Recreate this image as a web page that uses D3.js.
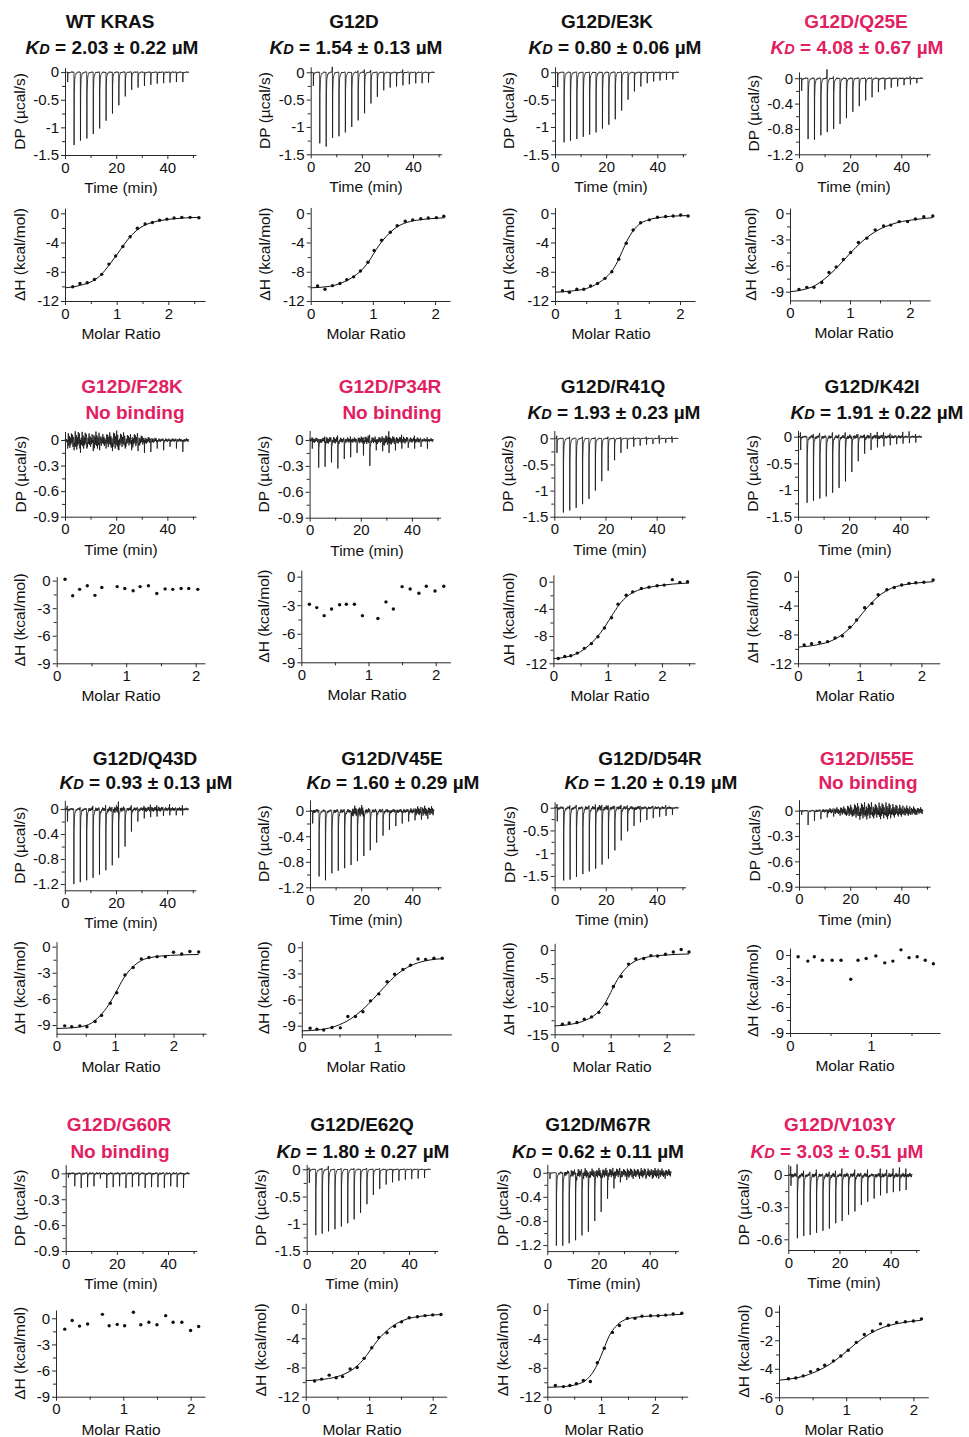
<!DOCTYPE html>
<html>
<head>
<meta charset="utf-8">
<script src="https://cdn.jsdelivr.net/npm/d3@7"></script>
<style>
  body { margin: 0; background: #fff; }
  svg text { font-family: "Liberation Sans", Arial, sans-serif; }
</style>
</head>
<body>
<svg id="chart" width="969" height="1437"></svg>
<script>
// ITC panels for WT KRAS and G12D variants: raw thermogram (DP) on top, binding isotherm (ΔH) below

// ---- data -------------------------------------------------------------
const mutants = ['WT KRAS', 'G12D', 'G12D/E3K', 'G12D/Q25E', 'G12D/F28K', 'G12D/P34R', 'G12D/R41Q', 'G12D/K42I',
  'G12D/Q43D', 'G12D/V45E', 'G12D/D54R', 'G12D/I55E', 'G12D/G60R', 'G12D/E62Q', 'G12D/M67R', 'G12D/V103Y'];
const kdValues = ['2.03 ± 0.22', '1.54 ± 0.13', '0.80 ± 0.06', '4.08 ± 0.67', null, null, '1.93 ± 0.23', '1.91 ± 0.22',
  '0.93 ± 0.13', '1.60 ± 0.29', '1.20 ± 0.19', null, null, '1.80 ± 0.27', '0.62 ± 0.11', '3.03 ± 0.51'];
const highlighted = [false, false, false, true, true, true, false, false, false, false, false, true, true, false, false, true];

// injection times (min) and end of the recorded trace
const INJ_TIMES = [1, 3.5, 6, 8.5, 11, 13.5, 16, 18.5, 21, 23.5, 26, 28.5, 31, 33.5, 36, 38.5, 41, 43.5, 46];
const TIME_END = 48.5;

// peak minima of each injection (µcal/s)
const peaksWT = [-0.18, -1.32, -1.24, -1.2, -1.12, -1.02, -0.88, -0.75, -0.6, -0.44, -0.32, -0.28, -0.25, -0.23, -0.21, -0.2, -0.19, -0.18, -0.18];
const peaksG12D = [-0.25, -1.3, -1.36, -1.2, -1.17, -1.1, -1.0, -0.88, -0.75, -0.57, -0.45, -0.33, -0.28, -0.26, -0.24, -0.22, -0.2, -0.2, -0.19];
const peaksE3K = [-0.27, -1.28, -1.25, -1.22, -1.18, -1.14, -1.1, -1.03, -0.96, -0.86, -0.7, -0.5, -0.35, -0.26, -0.2, -0.17, -0.15, -0.14, -0.13];
const peaksQ25E = [-0.2, -0.96, -0.97, -0.9, -0.85, -0.8, -0.72, -0.63, -0.53, -0.44, -0.35, -0.3, -0.22, -0.18, -0.15, -0.13, -0.11, -0.1, -0.08];
const peaksF28K = [-0.1, -0.12, -0.15, -0.1, -0.13, -0.12, -0.1, -0.13, -0.12, -0.1, -0.12, -0.13, -0.15, -0.14, -0.1, -0.12, -0.08, -0.1, -0.14];
const peaksP34R = [-0.1, -0.32, -0.31, -0.26, -0.33, -0.22, -0.2, -0.15, -0.18, -0.3, -0.12, -0.13, -0.15, -0.12, -0.1, -0.09, -0.1, -0.08, -0.1];
const peaksR41Q = [-0.28, -1.42, -1.38, -1.33, -1.26, -1.16, -1.0, -0.82, -0.62, -0.42, -0.28, -0.2, -0.16, -0.14, -0.12, -0.11, -0.1, -0.09, -0.08];
const peaksK42I = [-0.25, -1.24, -1.2, -1.16, -1.12, -1.05, -0.96, -0.84, -0.66, -0.46, -0.32, -0.25, -0.2, -0.18, -0.16, -0.14, -0.13, -0.12, -0.11];
const peaksQ43D = [-0.2, -1.2, -1.17, -1.14, -1.1, -1.05, -0.98, -0.9, -0.78, -0.6, -0.36, -0.2, -0.15, -0.13, -0.12, -0.11, -0.1, -0.1, -0.1];
const peaksV45E = [-0.2, -1.03, -1.09, -0.98, -0.94, -0.9, -0.85, -0.79, -0.71, -0.62, -0.5, -0.39, -0.3, -0.24, -0.2, -0.17, -0.15, -0.14, -0.13];
const peaksD54R = [-0.3, -1.6, -1.58, -1.52, -1.46, -1.4, -1.34, -1.25, -1.12, -0.94, -0.72, -0.52, -0.4, -0.32, -0.27, -0.23, -0.2, -0.18, -0.16];
const peaksI55E = [-0.05, -0.17, -0.12, -0.1, -0.08, -0.07, -0.06, -0.06, -0.06, -0.06, -0.05, -0.05, -0.05, -0.05, -0.05, -0.05, -0.05, -0.05, -0.05];
const peaksG60R = [-0.05, -0.15, -0.17, -0.16, -0.15, -0.06, -0.17, -0.16, -0.15, -0.17, -0.16, -0.15, -0.17, -0.16, -0.16, -0.17, -0.15, -0.16, -0.17];
const peaksE62Q = [-0.25, -1.21, -1.18, -1.14, -1.1, -1.05, -0.99, -0.92, -0.8, -0.64, -0.47, -0.36, -0.28, -0.24, -0.21, -0.19, -0.18, -0.17, -0.16];
const peaksM67R = [-0.1, -1.21, -1.21, -1.17, -1.12, -1.04, -0.98, -0.8, -0.65, -0.43, -0.26, -0.16, -0.12, -0.1, -0.1, -0.1, -0.1, -0.1, -0.1];
const peaksV103Y = [-0.1, -0.59, -0.57, -0.56, -0.54, -0.52, -0.5, -0.45, -0.43, -0.37, -0.34, -0.28, -0.25, -0.22, -0.19, -0.17, -0.16, -0.15, -0.14];

// small upward injection artefacts (µcal/s), one per injection
const upsG12D = [0, 0, 0, 0.1, 0, 0, 0, 0.03, 0.05, 0.04, 0, 0, 0, 0, 0.05, 0, 0, 0, 0];
const upsQ25E = [0, 0, 0, 0, 0.14, 0.03, 0, 0, 0, 0, 0, 0, 0, 0, 0, 0, 0, 0.03, 0];
const upsP34R = [0.03, 0, 0.04, 0, 0.05, 0, 0.04, 0, 0.03, 0.06, 0, 0.04, 0.1, 0, 0.06, 0, 0.05, 0, 0.03];
const upsR41Q = [0.05, 0, 0.03, 0, 0.03, 0, 0.02, 0, 0.03, 0, 0.02, 0, 0.03, 0, 0.03, 0, 0.06, 0, 0.04];
const upsK42I = [0.08, 0, 0.05, 0.07, 0, 0.08, 0.04, 0.08, 0, 0.05, 0.04, 0.07, 0.09, 0.08, 0.06, 0, 0.09, 0.1, 0.05];
const upsQ43D = [0.05, 0, 0.03, 0, 0.05, 0, 0.06, 0.03, 0.12, 0, 0.06, 0, 0.05, 0.07, 0.06, 0, 0.08, 0, 0.06];
const upsD54R = [0.08, 0, 0.05, 0.06, 0, 0.05, 0.07, 0.06, 0.05, 0.04, 0.06, 0.05, 0, 0.04, 0, 0.04, 0, 0.06, 0];
const upsE62Q = [0.03, 0, 0.02, 0.06, 0, 0.02, 0, 0.02, 0, 0.02, 0, 0.02, 0, 0, 0, 0, 0, 0, 0];
const upsV103Y = [0.08, 0.1, 0.04, 0.03, 0.05, 0, 0.03, 0.04, 0.06, 0, 0.05, 0, 0.05, 0, 0.06, 0.05, 0.06, 0.07, 0.06];

// baseline noise amplitude (µcal/s): before the first injection, then after each injection
const QUIET = 0.012;
const noiseF28K = [0.03, 0.09, 0.11, 0.1, 0.08, 0.1, 0.07, 0.09, 0.11, 0.09, 0.07, 0.08, 0.06, 0.04, 0.03, 0.02, 0.02, 0.02, 0.02, 0.02];
const noiseP34R = [0.02, 0.03, 0.03, 0.04, 0.04, 0.03, 0.03, 0.03, 0.04, 0.05, 0.04, 0.04, 0.06, 0.05, 0.04, 0.04, 0.03, 0.03, 0.02, 0.02];
const noiseK42I = [0.02, 0.02, 0.03, 0.03, 0.03, 0.03, 0.03, 0.03, 0.04, 0.04, 0.03, 0.04, 0.04, 0.04, 0.03, 0.03, 0.03, 0.02, 0.02, 0.02];
const noiseQ43D = [0.02, 0.02, 0.02, 0.02, 0.03, 0.03, 0.03, 0.04, 0.06, 0.04, 0.03, 0.03, 0.03, 0.04, 0.04, 0.04, 0.03, 0.03, 0.03, 0.02];
const noiseV45E = [0.02, 0.03, 0.02, 0.02, 0.03, 0.03, 0.03, 0.08, 0.09, 0.04, 0.03, 0.03, 0.03, 0.03, 0.03, 0.03, 0.04, 0.07, 0.08, 0.07];
const noiseD54R = [0.02, 0.03, 0.03, 0.03, 0.03, 0.04, 0.04, 0.06, 0.05, 0.04, 0.04, 0.04, 0.04, 0.04, 0.03, 0.03, 0.03, 0.03, 0.03, 0.02];
const noiseI55E = [0.01, 0.01, 0.01, 0.015, 0.02, 0.03, 0.04, 0.05, 0.07, 0.09, 0.1, 0.1, 0.09, 0.1, 0.1, 0.08, 0.07, 0.06, 0.05, 0.04];
const noiseM67R = [0.01, 0.01, 0.02, 0.04, 0.06, 0.07, 0.08, 0.07, 0.08, 0.08, 0.08, 0.08, 0.07, 0.08, 0.07, 0.08, 0.07, 0.08, 0.07, 0.06];
const noiseV103Y = [0.01, 0.02, 0.02, 0.015, 0.02, 0.015, 0.02, 0.02, 0.015, 0.02, 0.02, 0.02, 0.02, 0.015, 0.02, 0.02, 0.02, 0.02, 0.02, 0.02];

// integrated heats: molar ratio and ΔH (kcal/mol)
const ratioWT = [0.15, 0.29, 0.43, 0.57, 0.71, 0.85, 0.98, 1.12, 1.26, 1.4, 1.55, 1.69, 1.83, 1.97, 2.11, 2.26, 2.42, 2.59];
const heatWT = [-10.05, -9.6, -9.5, -9.05, -8.35, -6.95, -5.85, -4.55, -3.2, -2.05, -1.45, -1.25, -0.95, -0.8, -0.65, -0.55, -0.55, -0.6];
const ratioG12D = [0.11, 0.23, 0.35, 0.47, 0.58, 0.69, 0.8, 0.92, 1.02, 1.14, 1.28, 1.39, 1.52, 1.64, 1.77, 1.89, 2.02, 2.14];
const heatG12D = [-9.95, -10.4, -9.9, -9.6, -9.1, -8.7, -7.9, -6.7, -5.1, -3.7, -2.6, -1.7, -1.1, -0.9, -0.75, -0.65, -0.6, -0.4];
const ratioE3K = [0.12, 0.23, 0.35, 0.46, 0.57, 0.68, 0.8, 0.91, 1.02, 1.14, 1.25, 1.37, 1.51, 1.64, 1.77, 1.89, 2.01, 2.13];
const heatE3K = [-10.6, -10.8, -10.4, -10.4, -9.95, -9.6, -8.9, -8.0, -6.3, -4.1, -2.3, -1.3, -0.9, -0.55, -0.45, -0.37, -0.23, -0.37];
const ratioQ25E = [0.15, 0.28, 0.4, 0.53, 0.65, 0.77, 0.89, 1.01, 1.14, 1.28, 1.42, 1.56, 1.68, 1.82, 1.96, 2.09, 2.23, 2.38];
const heatQ25E = [-8.75, -8.5, -8.5, -7.95, -6.8, -6.15, -5.3, -4.5, -3.35, -2.85, -1.9, -1.45, -1.35, -0.95, -0.95, -0.65, -0.4, -0.3];
const ratioF28K = [0.12, 0.23, 0.33, 0.44, 0.55, 0.65, 0.87, 0.98, 1.1, 1.2, 1.32, 1.44, 1.56, 1.67, 1.79, 1.9, 2.03];
const heatF28K = [0.15, -1.65, -0.95, -0.55, -1.6, -0.75, -0.65, -0.85, -1.1, -0.65, -0.55, -1.4, -0.9, -0.95, -0.85, -0.85, -0.95];
const ratioP34R = [0.12, 0.23, 0.34, 0.45, 0.57, 0.67, 0.79, 0.91, 1.14, 1.26, 1.37, 1.5, 1.62, 1.75, 1.86, 1.99, 2.12];
const heatP34R = [-2.9, -3.25, -4.1, -3.4, -2.95, -2.9, -2.9, -4.1, -4.4, -2.65, -3.4, -1.05, -1.3, -1.75, -1.0, -1.5, -1.0];
const ratioR41Q = [0.09, 0.21, 0.32, 0.44, 0.57, 0.7, 0.82, 0.94, 1.07, 1.19, 1.34, 1.46, 1.62, 1.76, 1.91, 2.04, 2.19, 2.33, 2.47];
const heatR41Q = [-11.3, -11.0, -10.9, -10.5, -9.8, -9.1, -8.1, -6.8, -5.3, -3.3, -2.0, -1.5, -1.0, -0.8, -0.6, -0.5, 0.3, -0.1, 0];
const ratioK42I = [0.1, 0.22, 0.35, 0.48, 0.6, 0.72, 0.84, 0.95, 1.08, 1.2, 1.3, 1.44, 1.56, 1.68, 1.8, 1.91, 2.04, 2.19];
const heatK42I = [-9.45, -9.3, -9.1, -9.0, -8.5, -8.2, -7.0, -6.0, -4.3, -3.7, -2.5, -1.8, -1.5, -1.15, -0.92, -0.83, -0.78, -0.46];
const ratioQ43D = [0.14, 0.26, 0.4, 0.52, 0.66, 0.77, 0.92, 1.03, 1.17, 1.31, 1.45, 1.58, 1.72, 1.86, 2.0, 2.14, 2.28, 2.43];
const heatQ43D = [-9.1, -9.2, -9.1, -9.2, -8.6, -7.9, -6.5, -5.3, -3.25, -2.4, -1.4, -1.25, -1.15, -1.15, -0.65, -0.85, -0.55, -0.6];
const ratioV45E = [0.11, 0.2, 0.29, 0.4, 0.51, 0.61, 0.71, 0.81, 0.91, 1.02, 1.13, 1.23, 1.34, 1.44, 1.54, 1.64, 1.75, 1.86];
const heatV45E = [-9.3, -9.4, -9.5, -9.2, -9.25, -7.95, -7.95, -7.4, -6.15, -5.35, -3.95, -3.1, -2.55, -2.05, -1.35, -1.4, -1.25, -1.25];
const ratioD54R = [0.14, 0.26, 0.4, 0.53, 0.66, 0.79, 0.93, 1.05, 1.19, 1.32, 1.45, 1.59, 1.72, 1.84, 1.98, 2.12, 2.26, 2.4];
const heatD54R = [-13.2, -13.0, -12.9, -12.3, -11.9, -11.1, -9.6, -6.5, -4.7, -2.5, -1.6, -1.5, -1.0, -1.05, -0.75, -0.35, 0.1, -0.35];
const ratioI55E = [0.1, 0.22, 0.3, 0.4, 0.52, 0.63, 0.75, 0.84, 0.94, 1.06, 1.17, 1.27, 1.37, 1.47, 1.57, 1.67, 1.77];
const heatI55E = [-0.2, -0.7, -0.2, -0.6, -0.6, -0.6, -2.8, -0.6, -0.4, -0.1, -0.9, -0.7, 0.6, -0.3, -0.2, -0.6, -1.0];
const ratioG60R = [0.13, 0.24, 0.35, 0.47, 0.69, 0.79, 0.91, 1.02, 1.15, 1.26, 1.38, 1.5, 1.63, 1.74, 1.87, 2.0, 2.12];
const heatG60R = [-1.25, -0.25, -0.9, -0.65, 0.45, -0.85, -0.7, -0.85, 0.7, -0.75, -0.45, -0.75, 0.3, -0.45, -0.45, -1.4, -0.95];
const ratioE62Q = [0.14, 0.25, 0.37, 0.48, 0.58, 0.7, 0.81, 0.92, 1.04, 1.15, 1.28, 1.4, 1.51, 1.63, 1.76, 1.88, 2.0, 2.13];
const heatE62Q = [-9.85, -9.6, -9.05, -9.4, -9.25, -8.2, -8.0, -6.75, -5.3, -3.9, -3.25, -2.35, -1.75, -1.2, -1.05, -0.9, -0.8, -0.75];
const ratioM67R = [0.15, 0.3, 0.42, 0.54, 0.67, 0.8, 0.93, 1.06, 1.21, 1.34, 1.49, 1.63, 1.76, 1.92, 2.06, 2.2, 2.34, 2.5];
const heatM67R = [-10.45, -10.6, -10.45, -10.2, -9.75, -9.9, -7.3, -5.3, -3.1, -2.15, -1.15, -1.15, -0.85, -0.8, -0.8, -0.7, -0.55, -0.45];
const ratioV103Y = [0.14, 0.25, 0.36, 0.47, 0.58, 0.68, 0.81, 0.92, 1.03, 1.15, 1.27, 1.39, 1.51, 1.63, 1.75, 1.88, 2.0, 2.12];
const heatV103Y = [-4.7, -4.65, -4.5, -4.2, -4.05, -3.75, -3.45, -3.1, -2.7, -2.15, -1.6, -1.35, -0.85, -0.95, -0.75, -0.7, -0.65, -0.5];

// fitted one-site curves as [molar ratio, ΔH]
const fitWT = [[0, -10.2], [0.3, -9.85], [0.55, -9.2], [0.7, -8.4], [0.85, -7.1], [1.0, -5.7], [1.15, -4.2], [1.3, -2.9], [1.45, -2.0], [1.6, -1.45], [1.8, -1.05], [2.1, -0.75], [2.6, -0.55]];
const fitG12D = [[0, -10.2], [0.3, -10.0], [0.5, -9.5], [0.7, -8.6], [0.85, -7.5], [0.95, -6.4], [1.05, -5.0], [1.15, -3.8], [1.28, -2.6], [1.4, -1.8], [1.55, -1.25], [1.75, -0.9], [2.0, -0.7], [2.15, -0.62]];
const fitE3K = [[0, -10.8], [0.3, -10.6], [0.5, -10.3], [0.7, -9.5], [0.85, -8.5], [0.95, -7.4], [1.05, -5.7], [1.15, -3.8], [1.25, -2.4], [1.35, -1.5], [1.5, -0.9], [1.7, -0.55], [2.0, -0.35], [2.13, -0.32]];
const fitQ25E = [[0, -9.0], [0.2, -8.8], [0.4, -8.35], [0.6, -7.4], [0.8, -6.1], [1.0, -4.6], [1.2, -3.25], [1.4, -2.2], [1.6, -1.5], [1.8, -1.05], [2.1, -0.7], [2.38, -0.5]];
const fitR41Q = [[0, -11.3], [0.25, -11.05], [0.45, -10.5], [0.65, -9.4], [0.8, -8.2], [0.95, -6.6], [1.1, -4.7], [1.25, -3.0], [1.4, -1.9], [1.6, -1.15], [1.85, -0.7], [2.2, -0.35], [2.5, -0.2]];
const fitK42I = [[0, -9.75], [0.3, -9.45], [0.55, -8.85], [0.75, -7.8], [0.9, -6.6], [1.05, -5.0], [1.2, -3.55], [1.35, -2.4], [1.5, -1.65], [1.7, -1.15], [1.95, -0.85], [2.19, -0.7]];
const fitQ43D = [[0, -9.4], [0.3, -9.3], [0.55, -8.95], [0.75, -7.9], [0.9, -6.6], [1.02, -5.2], [1.15, -3.6], [1.3, -2.35], [1.45, -1.6], [1.65, -1.2], [1.95, -1.0], [2.43, -0.9]];
const fitV45E = [[0, -9.6], [0.25, -9.45], [0.45, -9.05], [0.65, -8.2], [0.8, -7.2], [0.95, -5.9], [1.1, -4.5], [1.25, -3.2], [1.4, -2.3], [1.55, -1.75], [1.7, -1.45], [1.88, -1.3]];
const fitD54R = [[0, -13.5], [0.3, -13.2], [0.55, -12.5], [0.75, -11.3], [0.88, -9.8], [1.0, -7.6], [1.12, -5.3], [1.25, -3.5], [1.4, -2.2], [1.6, -1.4], [1.9, -0.95], [2.4, -0.7]];
const fitE62Q = [[0, -9.8], [0.3, -9.6], [0.55, -9.1], [0.75, -8.2], [0.9, -7.0], [1.02, -5.6], [1.15, -4.1], [1.3, -2.8], [1.45, -1.9], [1.6, -1.35], [1.8, -1.0], [2.13, -0.75]];
const fitM67R = [[0, -10.7], [0.3, -10.6], [0.55, -10.3], [0.72, -9.7], [0.85, -8.6], [0.95, -7.2], [1.05, -5.4], [1.15, -3.6], [1.27, -2.3], [1.4, -1.5], [1.6, -1.05], [2.0, -0.8], [2.5, -0.6]];
const fitV103Y = [[0, -4.8], [0.25, -4.65], [0.5, -4.3], [0.75, -3.7], [0.95, -3.0], [1.15, -2.2], [1.35, -1.55], [1.55, -1.1], [1.8, -0.8], [2.12, -0.6]];

// tick values
const timeTicks = [0, 20, 40];
const timeMinor = [10, 30, 50];
const ratioTicks = [0, 1, 2];
const ratioMinor = [0.5, 1.5, 2.5];
const dpTicks15 = [0, -0.5, -1, -1.5];
const dpTicks12 = [0, -0.4, -0.8, -1.2];
const dpTicks09 = [0, -0.3, -0.6, -0.9];
const dpTicks06 = [0, -0.3, -0.6];
const heatTicks12 = [0, -4, -8, -12];
const heatTicks9 = [0, -3, -6, -9];
const heatTicks15 = [0, -5, -10, -15];
const heatTicks6 = [0, -2, -4, -6];

// ---- layout (pixels) --------------------------------------------------
const TITLE_Y = [28.3, 393, 765, 1130.7];
const SUB_Y = [54.3, 419.3, 789.3, 1157.5];
const DP_SPAN = 51.2;      // minutes covered by the DP x axis
const DP_WIDTH = 131;      // its length in px
// tx/kx: title centres, dp/iso: axis origin x, y px [bottom, top], y domain; dl/il: y-title x; lx: x-title centre
const LAYOUT = [
  { row: 0, tx: 110, kx: 112, dpX: 65, dpY: [155, 67.7], dpD: [-1.5, 0.08], dl: 19, isoX: 65, isoEnd: 205, ppu: 51.7, isoY: [301, 208.2], isoD: [-12, 0.7], il: 19, lx: 121, clip: true },
  { row: 0, tx: 354, kx: 356, dpX: 310.7, dpY: [154.3, 66.8], dpD: [-1.5, 0.1], dl: 264, isoX: 310.7, isoEnd: 450, ppu: 62.2, isoY: [301, 207.4], isoD: [-12, 0.8], il: 264, lx: 366, clip: true },
  { row: 0, tx: 607, kx: 615, dpX: 555, dpY: [154.3, 66.8], dpD: [-1.5, 0.1], dl: 508, isoX: 555, isoEnd: 695, ppu: 62.5, isoY: [301, 207.4], isoD: [-12, 0.8], il: 508, lx: 611 },
  { row: 0, tx: 856, kx: 857, dpX: 799, dpY: [154.3, 71.9], dpD: [-1.2, 0.1], dl: 753, isoX: 790, isoEnd: 930, ppu: 60, isoY: [300.4, 208.1], isoD: [-10, 0.6], il: 750, lx: 854 },
  { row: 1, tx: 132, kx: 135, dpX: 65, dpY: [516.7, 431.5], dpD: [-0.9, 0.1], dl: 20, isoX: 56.7, isoEnd: 205, ppu: 69.5, isoY: [663.3, 576.5], isoD: [-9, 0.45], il: 19, lx: 121 },
  { row: 1, tx: 390, kx: 392, dpX: 309.6, dpY: [517.7, 430.5], dpD: [-0.9, 0.11], dl: 263, isoX: 301.3, isoEnd: 450.4, ppu: 67.2, isoY: [662.3, 570], isoD: [-9, 0.7], il: 263, lx: 367 },
  { row: 1, tx: 613, kx: 614, dpX: 554.3, dpY: [516.7, 430.5], dpD: [-1.5, 0.15], dl: 507, isoX: 553.4, isoEnd: 695, ppu: 54.3, isoY: [663.3, 574.9], isoD: [-12, 1.0], il: 508, lx: 610 },
  { row: 1, tx: 872, kx: 877, dpX: 798, dpY: [516.7, 430.3], dpD: [-1.5, 0.12], dl: 752, isoX: 798, isoEnd: 939.8, ppu: 61.7, isoY: [663.3, 570.2], isoD: [-12, 0.9], il: 752, lx: 855 },
  { row: 2, tx: 145, kx: 146, dpX: 64.8, dpY: [890.3, 800.3], dpD: [-1.3, 0.14], dl: 19, isoX: 56.5, isoEnd: 206, ppu: 58.5, isoY: [1033.7, 941.7], isoD: [-10, 0.57], il: 19, lx: 121 },
  { row: 2, tx: 392, kx: 393, dpX: 310, dpY: [887.3, 799.9], dpD: [-1.2, 0.17], dl: 263, isoX: 301.8, isoEnd: 451.4, ppu: 75.5, isoY: [1034.4, 941.2], isoD: [-10, 0.7], il: 263, lx: 366 },
  { row: 2, tx: 650, kx: 651, dpX: 554.6, dpY: [887.3, 801.8], dpD: [-1.75, 0.13], dl: 509, isoX: 554.6, isoEnd: 694.4, ppu: 56, isoY: [1034.3, 943.3], isoD: [-15, 1.2], il: 508, lx: 612 },
  { row: 2, tx: 867, kx: 868, dpX: 799, dpY: [886.7, 799.7], dpD: [-0.9, 0.13], dl: 754, isoX: 790, isoEnd: 940, ppu: 81, isoY: [1033, 948.1], isoD: [-9, 0.8], il: 752, lx: 855 },
  { row: 3, tx: 119, kx: 120, dpX: 65.7, dpY: [1251, 1164.7], dpD: [-0.9, 0.1], dl: 19, isoX: 56, isoEnd: 205, ppu: 67.3, isoY: [1396.7, 1310], isoD: [-9, 0.95], il: 19, lx: 121 },
  { row: 3, tx: 362, kx: 363, dpX: 306.7, dpY: [1251, 1164.4], dpD: [-1.5, 0.09], dl: 260, isoX: 305.7, isoEnd: 446.7, ppu: 63.5, isoY: [1396.7, 1303.2], isoD: [-12, 0.8], il: 260, lx: 362 },
  { row: 3, tx: 598, kx: 598, dpX: 547.3, dpY: [1251.1, 1164.3], dpD: [-1.3, 0.14], dl: 502, isoX: 547.3, isoEnd: 687.7, ppu: 53.8, isoY: [1396.7, 1302.8], isoD: [-12, 1.0], il: 502, lx: 604 },
  { row: 3, tx: 840, kx: 837, dpX: 788.3, dpY: [1250, 1164.3], dpD: [-0.7, 0.1], dl: 743, isoX: 779, isoEnd: 928.3, ppu: 67.2, isoY: [1397.3, 1305], isoD: [-6, 0.47], il: 743, lx: 844 }
];

const PANELS = mutants.map((name, i) => ({
  name,
  kd: kdValues[i],
  red: highlighted[i],
  peaks: [peaksWT, peaksG12D, peaksE3K, peaksQ25E, peaksF28K, peaksP34R, peaksR41Q, peaksK42I, peaksQ43D, peaksV45E, peaksD54R, peaksI55E, peaksG60R, peaksE62Q, peaksM67R, peaksV103Y][i],
  ups: [null, upsG12D, null, upsQ25E, null, upsP34R, upsR41Q, upsK42I, upsQ43D, null, upsD54R, null, null, upsE62Q, null, upsV103Y][i],
  noise: [null, null, null, null, noiseF28K, noiseP34R, null, noiseK42I, noiseQ43D, noiseV45E, noiseD54R, noiseI55E, null, null, noiseM67R, noiseV103Y][i],
  ratio: [ratioWT, ratioG12D, ratioE3K, ratioQ25E, ratioF28K, ratioP34R, ratioR41Q, ratioK42I, ratioQ43D, ratioV45E, ratioD54R, ratioI55E, ratioG60R, ratioE62Q, ratioM67R, ratioV103Y][i],
  heat: [heatWT, heatG12D, heatE3K, heatQ25E, heatF28K, heatP34R, heatR41Q, heatK42I, heatQ43D, heatV45E, heatD54R, heatI55E, heatG60R, heatE62Q, heatM67R, heatV103Y][i],
  fit: [fitWT, fitG12D, fitE3K, fitQ25E, null, null, fitR41Q, fitK42I, fitQ43D, fitV45E, fitD54R, null, null, fitE62Q, fitM67R, fitV103Y][i],
  dpTicks: [dpTicks15, dpTicks15, dpTicks15, dpTicks12, dpTicks09, dpTicks09, dpTicks15, dpTicks15, dpTicks12, dpTicks12, dpTicks15, dpTicks09, dpTicks09, dpTicks15, dpTicks12, dpTicks06][i],
  heatTicks: [heatTicks12, heatTicks12, heatTicks12, heatTicks9, heatTicks9, heatTicks9, heatTicks12, heatTicks12, heatTicks9, heatTicks9, heatTicks15, heatTicks9, heatTicks9, heatTicks12, heatTicks12, heatTicks6][i],
  L: LAYOUT[i]
}));

// ---- styles -----------------------------------------------------------
const INK = '#111';
const AXIS = '#2a2a2a';
const RED = '#e2205f';
const FONT = '"Liberation Sans", Arial, sans-serif';

// spike shape of one injection (time offset in min -> fraction of peak depth)
const PEAK_T = [0, 0.05, 0.12, 0.3, 0.6, 1.0, 1.6];
const PEAK_F = [0, 1, 0.3, 0.1, 0.035, 0.01, 0];
const profile = d3.scaleLinear().domain(PEAK_T).range(PEAK_F).clamp(true);
// fixed texture used to draw baseline noise of a given amplitude
const WIGGLE = [0.7, -0.9, 0.4, -0.5, 1, -0.7, 0.55, -1, 0.3, -0.6, 0.85, -0.4];
const STEP = 0.2;

const svg = d3.select('#chart');
const defs = svg.append('defs');

function midpoints(ticks, min) {
  const out = [];
  for (let i = 1; i < ticks.length; i++) out.push((ticks[i - 1] + ticks[i]) / 2);
  const last = ticks[ticks.length - 1] - (ticks[0] - ticks[1]) / 2;
  if (last >= min - 1e-9) out.push(last);
  return out;
}

function styleAxis(sel) {
  sel.attr('font-family', FONT).attr('font-size', 15);
  sel.selectAll('line').attr('stroke', AXIS).attr('stroke-width', 1);
  sel.selectAll('path').attr('stroke', AXIS).attr('stroke-width', 1);
  sel.selectAll('text').attr('fill', INK);
}

function drawAxes(g, x, y, xMajor, xMinor, yMajor, yMinor) {
  const bottom = y.range()[0];
  const left = x.range()[0];
  const fmt = d => String(+d.toFixed(2));

  g.append('g')
    .attr('transform', `translate(0,${bottom})`)
    .call(d3.axisBottom(x).tickValues(xMinor).tickSize(3).tickSizeOuter(0).tickFormat(''))
    .call(s => s.select('.domain').remove())
    .call(styleAxis);
  g.append('g')
    .attr('transform', `translate(0,${bottom})`)
    .call(d3.axisBottom(x).tickValues(xMajor).tickSize(4).tickSizeOuter(0).tickPadding(3).tickFormat(fmt))
    .call(styleAxis);

  g.append('g')
    .attr('transform', `translate(${left},0)`)
    .call(d3.axisLeft(y).tickValues(yMinor).tickSize(3).tickSizeOuter(0).tickFormat(''))
    .call(s => s.select('.domain').remove())
    .call(styleAxis);
  g.append('g')
    .attr('transform', `translate(${left},0)`)
    .call(d3.axisLeft(y).tickValues(yMajor).tickSize(4).tickSizeOuter(0).tickPadding(2).tickFormat(fmt))
    .call(styleAxis);
}

function axisTitles(g, xTitle, yTitle, cx, bottom, lx, top) {
  g.append('text')
    .attr('x', cx).attr('y', bottom + 38)
    .attr('text-anchor', 'middle')
    .attr('font-size', 15.5).attr('fill', INK)
    .text(xTitle);
  g.append('text')
    .attr('transform', `translate(${lx},${(bottom + top) / 2}) rotate(-90)`)
    .attr('text-anchor', 'middle')
    .attr('dominant-baseline', 'central')
    .attr('font-size', 15.5).attr('fill', INK)
    .text(yTitle);
}

// thermogram trace: baseline noise, then one spike per injection
function tracePoints(p) {
  const amp = i => (p.noise ? p.noise[i] : QUIET);
  let w = 0;
  const wig = () => WIGGLE[w++ % WIGGLE.length];
  const pts = [[0, 0]];
  for (let t = 0.2; t < INJ_TIMES[0] - 0.1; t += STEP) pts.push([t, amp(0) * wig()]);
  INJ_TIMES.forEach((t0, i) => {
    const t1 = i + 1 < INJ_TIMES.length ? INJ_TIMES[i + 1] : TIME_END;
    const depth = p.peaks[i];
    if (p.ups && p.ups[i]) pts.push([t0 - 0.05, p.ups[i]]);
    pts.push([t0, 0]);
    pts.push([t0 + PEAK_T[1], depth]);
    pts.push([t0 + PEAK_T[2], depth * PEAK_F[2]]);
    for (let t = t0 + 0.3; t < t1 - 0.1; t += STEP) {
      pts.push([t, depth * profile(t - t0) + amp(i + 1) * wig()]);
    }
  });
  pts.push([TIME_END, 0]);
  return pts;
}

PANELS.forEach((p, i) => {
  const L = p.L;
  const color = p.red ? RED : INK;
  const g = svg.append('g').attr('class', 'panel');

  // titles
  g.append('text')
    .attr('x', L.tx).attr('y', TITLE_Y[L.row])
    .attr('text-anchor', 'middle')
    .attr('font-size', 19).attr('font-weight', 'bold').attr('fill', color)
    .text(p.name);

  const sub = g.append('text')
    .attr('x', L.kx).attr('y', SUB_Y[L.row])
    .attr('text-anchor', 'middle')
    .attr('font-size', 19).attr('font-weight', 'bold').attr('fill', color);
  if (p.kd) {
    sub.append('tspan').attr('font-style', 'italic').text('K');
    sub.append('tspan').attr('font-style', 'italic').attr('font-size', 14.5).text('D');
    sub.append('tspan').text(' = ' + p.kd + ' µM');
  } else {
    sub.text('No binding');
  }
  if (L.clip) {
    const id = 'clip' + i;
    defs.append('clipPath').attr('id', id)
      .append('rect').attr('x', 0).attr('y', 0).attr('width', 969).attr('height', SUB_Y[L.row] + 0.5);
    sub.attr('clip-path', `url(#${id})`);
  }

  // DP thermogram
  const xT = d3.scaleLinear().domain([0, DP_SPAN]).range([L.dpX, L.dpX + DP_WIDTH]);
  const yT = d3.scaleLinear().domain(L.dpD).range(L.dpY);
  const dpG = g.append('g');
  dpG.append('path')
    .datum(tracePoints(p))
    .attr('fill', 'none')
    .attr('stroke', INK)
    .attr('stroke-width', 0.8)
    .attr('stroke-linejoin', 'miter')
    .attr('d', d3.line().x(d => xT(d[0])).y(d => yT(d[1])));
  drawAxes(dpG, xT, yT, timeTicks, timeMinor, p.dpTicks, midpoints(p.dpTicks, L.dpD[0]));
  axisTitles(dpG, 'Time (min)', 'DP (µcal/s)', L.lx, L.dpY[0], L.dl, L.dpY[1]);

  // binding isotherm
  const xMax = (L.isoEnd - L.isoX) / L.ppu;
  const xR = d3.scaleLinear().domain([0, xMax]).range([L.isoX, L.isoEnd]);
  const yH = d3.scaleLinear().domain(L.isoD).range(L.isoY);
  const isoG = g.append('g');
  if (p.fit) {
    isoG.append('path')
      .datum(p.fit)
      .attr('fill', 'none')
      .attr('stroke', INK)
      .attr('stroke-width', 1)
      .attr('d', d3.line().x(d => xR(d[0])).y(d => yH(d[1])).curve(d3.curveMonotoneX));
  }
  isoG.selectAll('circle')
    .data(p.ratio.map((r, k) => [r, p.heat[k]]))
    .enter()
    .append('circle')
    .attr('cx', d => xR(d[0]))
    .attr('cy', d => yH(d[1]))
    .attr('r', 1.7)
    .attr('fill', INK);
  drawAxes(isoG, xR, yH,
    ratioTicks.filter(v => v <= xMax), ratioMinor.filter(v => v <= xMax),
    p.heatTicks, midpoints(p.heatTicks, L.isoD[0]));
  axisTitles(isoG, 'Molar Ratio', 'ΔH (kcal/mol)', L.lx, L.isoY[0], L.il, L.isoY[1]);
});
</script>
</body>
</html>
